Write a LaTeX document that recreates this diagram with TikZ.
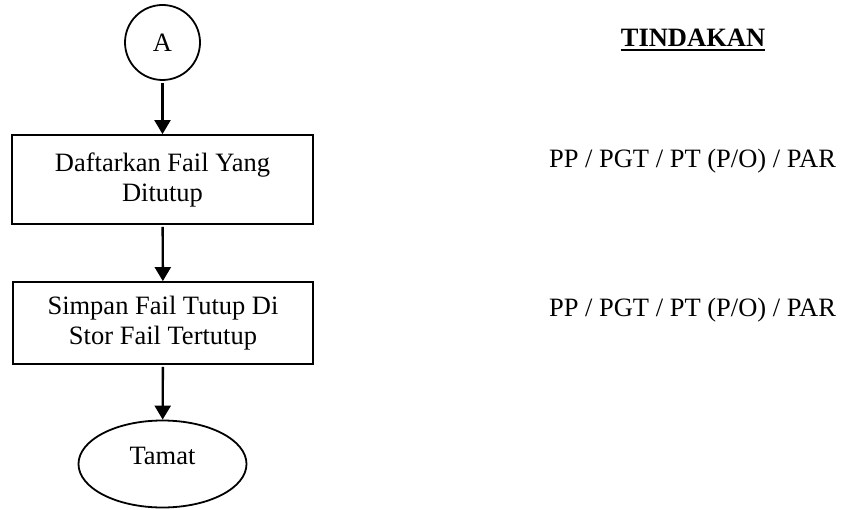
\documentclass[tikz,border=0pt]{standalone}
\usepackage{fontspec}
\setmainfont{Liberation Serif}
\usetikzlibrary{arrows.meta,shapes.geometric}
\begin{document}
\begin{tikzpicture}[x=1pt,y=-1pt,
  every node/.style={font=\fontsize{26.5}{30}\selectfont},
  procbox/.style={draw,line width=1.8pt,rectangle,align=center,inner sep=0pt},
  flowarrow/.style={line width=2.4pt,shorten <=2pt,-{Triangle[length=14pt,width=16pt]}},
  plain/.style={anchor=base,inner sep=0pt}]
\useasboundingbox (0,0) rectangle (850,510);
\node[draw,circle,line width=1.8pt,minimum size=75pt,inner sep=0pt] (a) at (162.5,42.5) {A};
\node[procbox,minimum width=301pt,minimum height=89pt] (b1) at (162.5,179.5) {Daftarkan Fail Yang\\Ditutup};
\node[procbox,minimum width=300pt,minimum height=82pt] (b2) at (163,323) {Simpan Fail Tutup Di\\Stor Fail Tertutup};
\node[draw,ellipse,line width=1.8pt,minimum width=168pt,minimum height=87pt,inner sep=0pt] (e) at (162.5,464) {\raisebox{8pt}[\height][\depth]{Tamat}};
\draw[flowarrow] (a) -- (b1);
\draw[flowarrow] (b1) -- (b2);
\draw[flowarrow] (b2) -- (e);
\node[plain,font=\fontsize{26.5}{30}\selectfont\bfseries] (t) at (693,47) {TINDAKAN};
\draw[line width=2pt] ([yshift=-3.5pt]t.base west) -- ([yshift=-3.5pt]t.base east);
\node[plain] (p1) at (692.5,168) {PP / PGT / PT (P/O) / PAR};
\node[plain] (p2) at (692.5,316) {PP / PGT / PT (P/O) / PAR};
\end{tikzpicture}
\end{document}
